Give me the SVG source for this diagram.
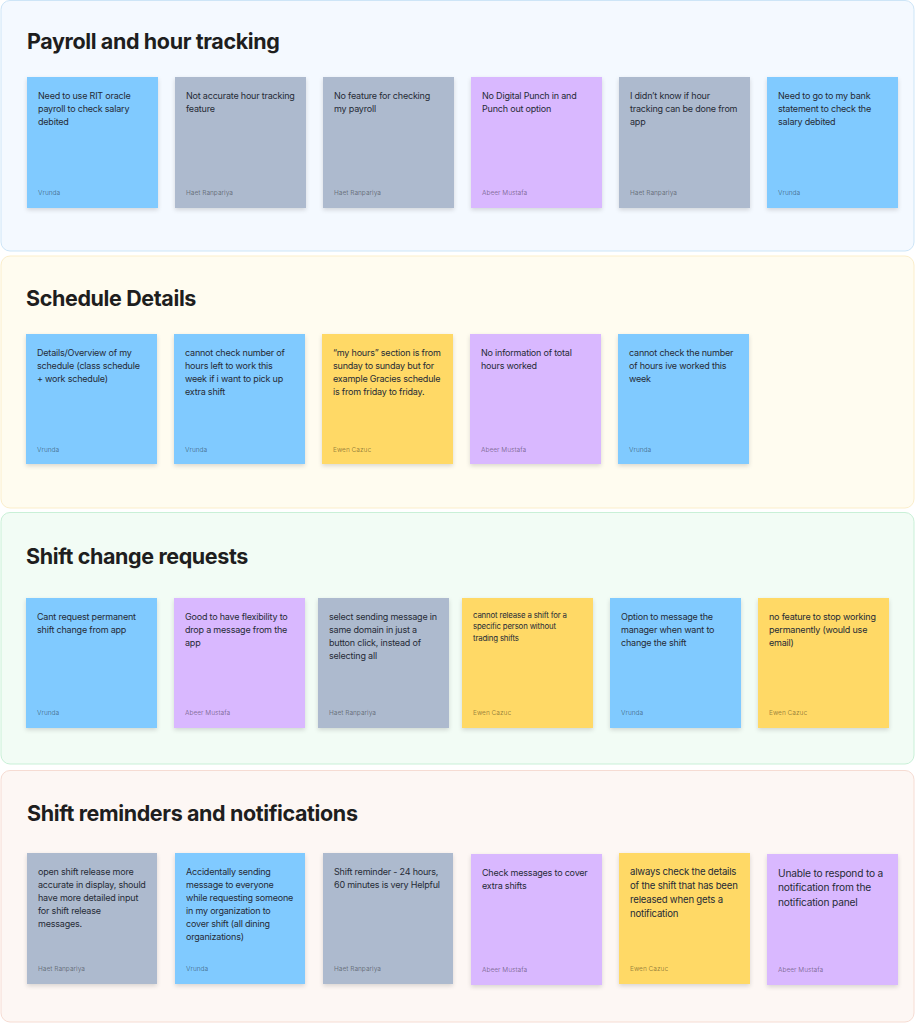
<svg xmlns="http://www.w3.org/2000/svg" width="915" height="1024" viewBox="0 0 915 1024">
<defs>
<filter id="sh" x="-10%" y="-10%" width="120%" height="125%">
<feDropShadow dx="0" dy="2" stdDeviation="2" flood-color="#000" flood-opacity="0.14"/>
</filter>
<style>
.title{font-family:Inter,"Noto Sans",sans-serif;font-weight:700;font-size:21.5px;letter-spacing:-0.38px;fill:#1e1e1e}
.t{font-family:Inter,"Noto Sans",sans-serif;font-size:9px;letter-spacing:-0.2px;fill:#262b36}
.a{font-family:Inter,"Noto Sans",sans-serif;font-size:6.5px;fill:#000;fill-opacity:0.42}
.blue{fill:#80caff;filter:url(#sh)}
.gray{fill:#adbace;filter:url(#sh)}
.purple{fill:#d9b8ff;filter:url(#sh)}
.yellow{fill:#ffd966;filter:url(#sh)}
</style>
</defs>
<g id="section-payroll">
<rect x="1" y="0.5" width="913" height="250.5" rx="9" fill="#f4f9ff" stroke="#cde5f7"/>
<text class="title" x="27" y="49">Payroll and hour tracking</text>
</g>
<g id="section-schedule">
<rect x="1" y="256" width="913" height="252" rx="9" fill="#fffcf0" stroke="#fbeecb"/>
<text class="title" x="26" y="306">Schedule Details</text>
</g>
<g id="section-shift-change">
<rect x="1" y="512.5" width="913" height="251.5" rx="9" fill="#f2fcf5" stroke="#c9f0d7"/>
<text class="title" x="26" y="564">Shift change requests</text>
</g>
<g id="section-reminders">
<rect x="1" y="770.5" width="913" height="251.5" rx="9" fill="#fdf7f4" stroke="#f6dcd3"/>
<text class="title" x="27" y="821">Shift reminders and notifications</text>
</g>

<g id="connectors"></g>

<g id="n1-1"><rect class="blue" x="27" y="77" width="131" height="131"/>
<text class="t" x="38" y="99">Need to use RIT oracle<tspan x="38" dy="13">payroll to check salary</tspan><tspan x="38" dy="13">debited</tspan></text>
<text class="a" x="38" y="195">Vrunda</text></g>
<g id="n1-2"><rect class="gray" x="175" y="77" width="131" height="131"/>
<text class="t" x="186" y="99">Not accurate hour tracking<tspan x="186" dy="13">feature</tspan></text>
<text class="a" x="186" y="195">Haet Ranpariya</text></g>
<g id="n1-3"><rect class="gray" x="323" y="77" width="131" height="131"/>
<text class="t" x="334" y="99">No feature for checking<tspan x="334" dy="13">my payroll</tspan></text>
<text class="a" x="334" y="195">Haet Ranpariya</text></g>
<g id="n1-4"><rect class="purple" x="471" y="77" width="131" height="131"/>
<text class="t" x="482" y="99">No Digital Punch in and<tspan x="482" dy="13">Punch out option</tspan></text>
<text class="a" x="482" y="195">Abeer Mustafa</text></g>
<g id="n1-5"><rect class="gray" x="619" y="77" width="131" height="131"/>
<text class="t" x="630" y="99">I didn’t know if hour<tspan x="630" dy="13">tracking can be done from</tspan><tspan x="630" dy="13">app</tspan></text>
<text class="a" x="630" y="195">Haet Ranpariya</text></g>
<g id="n1-6"><rect class="blue" x="767" y="77" width="131" height="131"/>
<text class="t" x="778" y="99">Need to go to my bank<tspan x="778" dy="13">statement to check the</tspan><tspan x="778" dy="13">salary debited</tspan></text>
<text class="a" x="778" y="195">Vrunda</text></g>

<g id="n2-1"><rect class="blue" x="26" y="334" width="131" height="130"/>
<text class="t" x="37" y="355.5">Details/Overview of my<tspan x="37" dy="13">schedule (class schedule</tspan><tspan x="37" dy="13">+ work schedule)</tspan></text>
<text class="a" x="37" y="451.5">Vrunda</text></g>
<g id="n2-2"><rect class="blue" x="174" y="334" width="131" height="130"/>
<text class="t" x="185" y="355.5">cannot check number of<tspan x="185" dy="13">hours left to work this</tspan><tspan x="185" dy="13">week if i want to pick up</tspan><tspan x="185" dy="13">extra shift</tspan></text>
<text class="a" x="185" y="451.5">Vrunda</text></g>
<g id="n2-3"><rect class="yellow" x="322" y="334" width="131" height="130"/>
<text class="t" x="333" y="355.5">“my hours” section is from<tspan x="333" dy="13">sunday to sunday but for</tspan><tspan x="333" dy="13">example Gracies schedule</tspan><tspan x="333" dy="13">is from friday to friday.</tspan></text>
<text class="a" x="333" y="451.5">Ewen Cazuc</text></g>
<g id="n2-4"><rect class="purple" x="470" y="334" width="131" height="130"/>
<text class="t" x="481" y="355.5">No information of total<tspan x="481" dy="13">hours worked</tspan></text>
<text class="a" x="481" y="451.5">Abeer Mustafa</text></g>
<g id="n2-5"><rect class="blue" x="618" y="334" width="131" height="130"/>
<text class="t" x="629" y="355.5">cannot check the number<tspan x="629" dy="13">of hours ive worked this</tspan><tspan x="629" dy="13">week</tspan></text>
<text class="a" x="629" y="451.5">Vrunda</text></g>

<g id="n3-1"><rect class="blue" x="26" y="598" width="131" height="130"/>
<text class="t" x="37" y="619.5">Cant request permanent<tspan x="37" dy="13">shift change from app</tspan></text>
<text class="a" x="37" y="715">Vrunda</text></g>
<g id="n3-2"><rect class="purple" x="174" y="598" width="131" height="130"/>
<text class="t" x="185" y="619.5">Good to have flexibility to<tspan x="185" dy="13">drop a message from the</tspan><tspan x="185" dy="13">app</tspan></text>
<text class="a" x="185" y="715">Abeer Mustafa</text></g>
<g id="n3-3"><rect class="gray" x="318" y="598" width="131" height="130"/>
<text class="t" x="329" y="619.5">select sending message in<tspan x="329" dy="13">same domain in just a</tspan><tspan x="329" dy="13">button click, instead of</tspan><tspan x="329" dy="13">selecting all</tspan></text>
<text class="a" x="329" y="715">Haet Ranpariya</text></g>
<g id="n3-4"><rect class="yellow" x="462" y="598" width="131" height="130"/>
<text class="t" x="473" y="618" style="font-size:7.8px;letter-spacing:-0.15px">cannot release a shift for a<tspan x="473" dy="11.3">specific person without</tspan><tspan x="473" dy="11.3">trading shifts</tspan></text>
<text class="a" x="473" y="715">Ewen Cazuc</text></g>
<g id="n3-5"><rect class="blue" x="610" y="598" width="131" height="130"/>
<text class="t" x="621" y="619.5">Option to message the<tspan x="621" dy="13">manager when want to</tspan><tspan x="621" dy="13">change the shift</tspan></text>
<text class="a" x="621" y="715">Vrunda</text></g>
<g id="n3-6"><rect class="yellow" x="758" y="598" width="131" height="130"/>
<text class="t" x="769" y="619.5">no feature to stop working<tspan x="769" dy="13">permanently (would use</tspan><tspan x="769" dy="13">email)</tspan></text>
<text class="a" x="769" y="715">Ewen Cazuc</text></g>

<g id="n4-1"><rect class="gray" x="27" y="853" width="130" height="131"/>
<text class="t" x="38" y="874.5">open shift release more<tspan x="38" dy="13">accurate in display, should</tspan><tspan x="38" dy="13">have more detailed input</tspan><tspan x="38" dy="13">for shift release</tspan><tspan x="38" dy="13">messages.</tspan></text>
<text class="a" x="38" y="971">Haet Ranpariya</text></g>
<g id="n4-2"><rect class="blue" x="175" y="853" width="130" height="131"/>
<text class="t" x="186" y="874.5">Accidentally sending<tspan x="186" dy="13">message to everyone</tspan><tspan x="186" dy="13">while requesting someone</tspan><tspan x="186" dy="13">in my organization to</tspan><tspan x="186" dy="13">cover shift (all dining</tspan><tspan x="186" dy="13">organizations)</tspan></text>
<text class="a" x="186" y="971">Vrunda</text></g>
<g id="n4-3"><rect class="gray" x="323" y="853" width="130" height="131"/>
<text class="t" x="334" y="874.5">Shift reminder - 24 hours,<tspan x="334" dy="13">60 minutes is very Helpful</tspan></text>
<text class="a" x="334" y="971">Haet Ranpariya</text></g>
<g id="n4-4"><rect class="purple" x="471" y="854" width="131" height="131"/>
<text class="t" x="482" y="875.5">Check messages to cover<tspan x="482" dy="13">extra shifts</tspan></text>
<text class="a" x="482" y="971.5">Abeer Mustafa</text></g>
<g id="n4-5"><rect class="yellow" x="619" y="853" width="131" height="131"/>
<text class="t" x="630" y="875" style="font-size:9.6px;letter-spacing:-0.2px">always check the details<tspan x="630" dy="14">of the shift that has been</tspan><tspan x="630" dy="14">released when gets a</tspan><tspan x="630" dy="14">notification</tspan></text>
<text class="a" x="630" y="970.5">Ewen Cazuc</text></g>
<g id="n4-6"><rect class="purple" x="767" y="854" width="131" height="131"/>
<text class="t" x="778" y="876.5" style="font-size:10.2px;letter-spacing:-0.2px">Unable to respond to a<tspan x="778" dy="14.7">notification from the</tspan><tspan x="778" dy="14.7">notification panel</tspan></text>
<text class="a" x="778" y="971.5">Abeer Mustafa</text></g>
</svg>
